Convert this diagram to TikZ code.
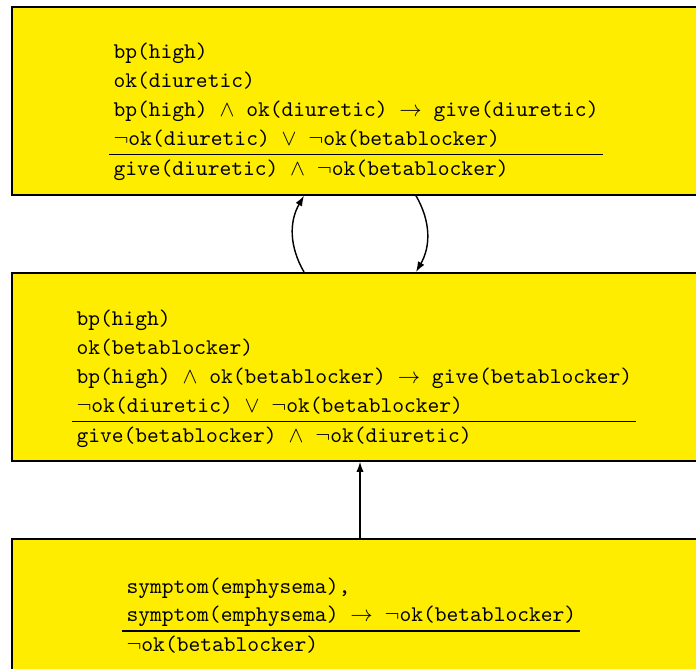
\documentclass[tikz,border=0pt]{standalone}
\usepackage{amssymb}
\usepackage{amsmath}
\usetikzlibrary{arrows.meta}
\definecolor{boxyellow}{RGB}{255,237,0}
\setlength{\arrayrulewidth}{0.7pt}
\newcommand{\proofrows}[1]{\begin{tabular}[t]{@{\hspace{2pt}}l@{\hspace{2pt}}}#1\end{tabular}}

\begin{document}
\begin{tikzpicture}[x=0.488pt,y=0.488pt,
	kbox/.style={draw=black,line width=0.9pt,fill=boxyellow,anchor=north west,
		inner sep=0pt,minimum width=370pt,minimum height=91.7pt},
	rows/.style={anchor=base west,inner sep=0pt,font=\fontsize{10.95}{14}\selectfont\ttfamily},
	arr/.style={->,>={Latex[length=5pt,width=3.6pt]},line width=0.7pt}]
	\useasboundingbox (0,0) rectangle (696,668);
	\clip (0,0) rectangle (696,668);
	
	%boxes
	\node[kbox] (diur) at (11,662) {};
	\node[kbox] (beta) at (11,396) {};
	\node[kbox] (symp) at (11,130) {};
	
	%diuretic argument
	\node[rows] (diurtxt) at (109,609) {\proofrows{%
		bp(high)\\
		ok(diuretic)\\
		bp(high) $\wedge$ ok(diuretic) $\rightarrow$ give(diuretic)\\
		$\neg$ok(diuretic) $\vee$ $\neg$ok(betablocker)\\ \hline
		give(diuretic) $\wedge$ $\neg$ok(betablocker)}};
	
	%betablocker argument
	\node[rows] (betatxt) at (72,342) {\proofrows{%
		bp(high)\\
		ok(betablocker)\\
		bp(high) $\wedge$ ok(betablocker) $\rightarrow$ give(betablocker)\\
		$\neg$ok(diuretic) $\vee$ $\neg$ok(betablocker)\\ \hline
		give(betablocker) $\wedge$ $\neg$ok(diuretic)}};
	
	%emphysema argument
	\node[rows] (symptxt) at (122,75) {\proofrows{%
		symptom(emphysema),\\
		symptom(emphysema) $\rightarrow$ $\neg$ok(betablocker)\\ \hline
		$\neg$ok(betablocker)}};
	
	%attacks
	\coordinate (xl) at (304,0);
	\coordinate (xr) at (416,0);
	\coordinate (xm) at (360,0);
	\draw[arr] (beta.north -| xl) to[bend left=30] (diur.south -| xl);
	\draw[arr] (diur.south -| xr) to[bend left=30] (beta.north -| xr);
	\draw[arr] (symp.north -| xm) -- (beta.south -| xm);
\end{tikzpicture}
\end{document}
